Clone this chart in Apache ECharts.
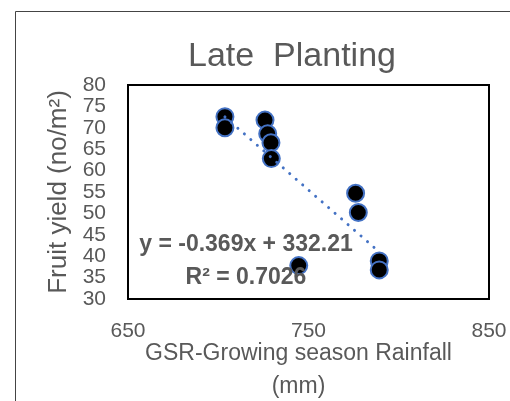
<!DOCTYPE html>
<html>
<head>
<meta charset="utf-8">
<script src="https://cdn.jsdelivr.net/npm/echarts@6/dist/echarts.min.js"></script>
<style>
html,body{margin:0;padding:0;background:#fff;}
#chart{width:510px;height:401px;}
</style>
</head>
<body>
<div id="chart"></div>
<script>
// Data
const rainfall = [703.7, 703.7, 725.9, 727.4, 729.2, 729.4, 776.1, 777.6, 744.6, 789.2, 789.2];
const fruitYield = [72.6, 70.0, 71.8, 68.6, 66.5, 62.8, 54.7, 50.2, 37.8, 38.9, 36.8];
const trendSlope = -0.369;
const trendIntercept = 332.21;
const trendText = 'y = -0.369x + 332.21';
const r2Text = 'R² = 0.7026';
const titleText = 'Late  Planting';
const xName = 'GSR-Growing season Rainfall\n(mm)';
const yName = 'Fruit yield (no/m²)';

const points = rainfall.map((x, i) => [x, fruitYield[i]]);
const xMinData = Math.min(...rainfall), xMaxData = Math.max(...rainfall);
const trend = [xMinData, xMaxData].map(x => [x, trendSlope * x + trendIntercept]);

const FONT = 'Liberation Sans';
const GREY = '#595959';

const chart = echarts.init(document.getElementById('chart'), null, {renderer: 'canvas'});
chart.setOption({
  animation: false,
  backgroundColor: '#fff',
  title: {
    text: titleText,
    left: 287, top: 35, textAlign: 'center',
    textStyle: {fontFamily: FONT, fontSize: 34, fontWeight: 'normal', color: GREY}
  },
  grid: {
    left: 128, right: 21, top: 85, bottom: 102,
    outerBoundsMode: 'none', containLabel: false,
    show: true, borderColor: '#000', borderWidth: 2, backgroundColor: 'transparent'
  },
  xAxis: {
    type: 'value', min: 650, max: 850, interval: 100,
    axisLine: {show: false}, axisTick: {show: false}, splitLine: {show: false},
    axisLabel: {fontFamily: FONT, fontSize: 21, color: GREY, margin: 22, showMinLabel: true, showMaxLabel: true},
    name: xName, nameLocation: 'middle', nameGap: 38, nameMoveOverlap: false,
    nameTextStyle: {fontFamily: FONT, fontSize: 23, color: GREY, lineHeight: 33, padding: [0, 20, 0, 0]}
  },
  yAxis: {
    type: 'value', min: 30, max: 80, interval: 5,
    axisLine: {show: false}, axisTick: {show: false}, splitLine: {show: false},
    axisLabel: {fontFamily: FONT, fontSize: 21, color: GREY, margin: 22, showMinLabel: true, showMaxLabel: true, hideOverlap: false},
    name: yName, nameLocation: 'middle', nameGap: 56, nameRotate: 90, nameMoveOverlap: false,
    nameTextStyle: {fontFamily: FONT, fontSize: 26, color: GREY}
  },
  graphic: [
    {type: 'rect', silent: true, z: -10, shape: {x: 15.5, y: 11.5, width: 700, height: 600},
     style: {fill: 'transparent', stroke: '#444', lineWidth: 1}},
    {type: 'text', z: 100, x: 246, y: 245,
     style: {text: trendText, fontFamily: FONT, fontSize: 23, fontWeight: 'bold', fill: GREY, textAlign: 'center', textVerticalAlign: 'middle'}},
    {type: 'text', z: 100, x: 246, y: 278,
     style: {text: r2Text, fontFamily: FONT, fontSize: 23, fontWeight: 'bold', fill: GREY, textAlign: 'center', textVerticalAlign: 'middle'}}
  ],
  series: [
    {
      type: 'scatter', data: points, symbol: 'circle', symbolSize: 17,
      itemStyle: {color: '#000', borderColor: '#4472C4', borderWidth: 2, opacity: 1},
      z: 3
    },
    {
      type: 'line', data: trend, showSymbol: false, symbol: 'none',
      lineStyle: {color: '#4472C4', width: 3, type: [0.01, 8.6], cap: 'round'},
      z: 4
    }
  ]
});
</script>
</body>
</html>
